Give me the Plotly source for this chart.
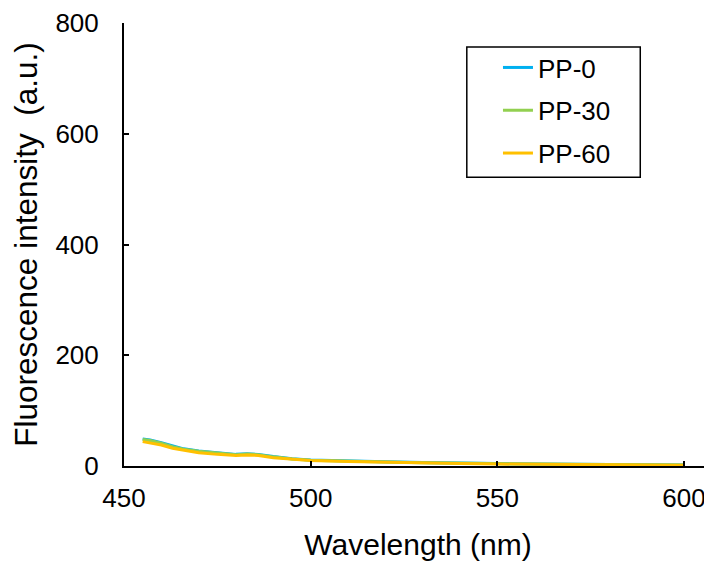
import plotly.graph_objects as go

wavelength = [455, 457, 460, 463, 466, 470, 475, 480, 483, 486, 490, 495, 500, 510, 520, 530, 540, 550, 560, 570, 580, 590, 600]
pp0 = [49, 47, 42, 36, 31, 27, 24, 21, 22, 21, 17, 13, 11, 9, 7.5, 6.5, 5, 4.5, 3.5, 3, 2.5, 2.2, 2]
pp30 = [48, 46, 41, 35, 30.5, 26.5, 23.5, 20.5, 21.5, 20.5, 16.5, 12.5, 10.5, 8.5, 7, 6, 5, 4, 3.5, 3, 2.5, 2, 2]
pp60 = [44, 42, 38, 32, 28, 24, 21, 19, 20, 19, 15, 12, 10, 8, 6.5, 5.5, 4.5, 3.5, 3, 2.5, 2, 1.8, 1.5]

series = [("PP-0", pp0, "#00B0F0"), ("PP-30", pp30, "#92D050"), ("PP-60", pp60, "#FFC000")]

fig = go.Figure()
for i, (name, vals, color) in enumerate(series):
    fig.add_trace(go.Scatter(x=wavelength, y=vals, mode="lines", name=name,
                             line=dict(color=color, width=3), legendgroup=f"g{i}"))

# page body has an 8px margin; figure sized so the plot ends at the window edge
font_family = "Liberation Sans, Arial, sans-serif"
fig.update_layout(
    width=704, height=558,
    margin=dict(l=116, r=0, t=13, b=100),
    paper_bgcolor="white", plot_bgcolor="white",
    font=dict(family=font_family, size=26, color="black"),
    showlegend=True,
    legend=dict(x=0.636, y=0.9525, xanchor="left", yanchor="top",
                borderwidth=0, bgcolor="rgba(0,0,0,0)",
                font=dict(size=26), tracegroupgap=6, traceorder="grouped",
                itemwidth=30),
    xaxis=dict(range=[450, 607.5], tickvals=[450, 500, 550, 600],
               showline=True, linecolor="black", linewidth=2, showgrid=False, zeroline=False,
               ticks="inside", ticklen=5, tickwidth=1.5, tickcolor="black",
               ticklabelstandoff=8, ticklabeloverflow="allow",
               title=dict(text="Wavelength (nm)", font=dict(size=30), standoff=22)),
    yaxis=dict(range=[0, 800], tickvals=[0, 200, 400, 600, 800],
               showline=True, linecolor="black", linewidth=2, showgrid=False, zeroline=False,
               ticks="inside", ticklen=5, tickwidth=1.5, tickcolor="black",
               ticklabelstandoff=18, ticklabeloverflow="allow",
               title=dict(text="Fluorescence intensity\u00a0\u00a0(a.u.)\u00a0",
                          font=dict(size=31.5), standoff=12)),
    shapes=[dict(type="rect", xref="paper", yref="paper",
                 x0=0.583, x1=0.878, y0=0.652, y1=0.946,
                 line=dict(color="black", width=1.5), fillcolor="rgba(0,0,0,0)")],
)

fig.write_html("out.html")
